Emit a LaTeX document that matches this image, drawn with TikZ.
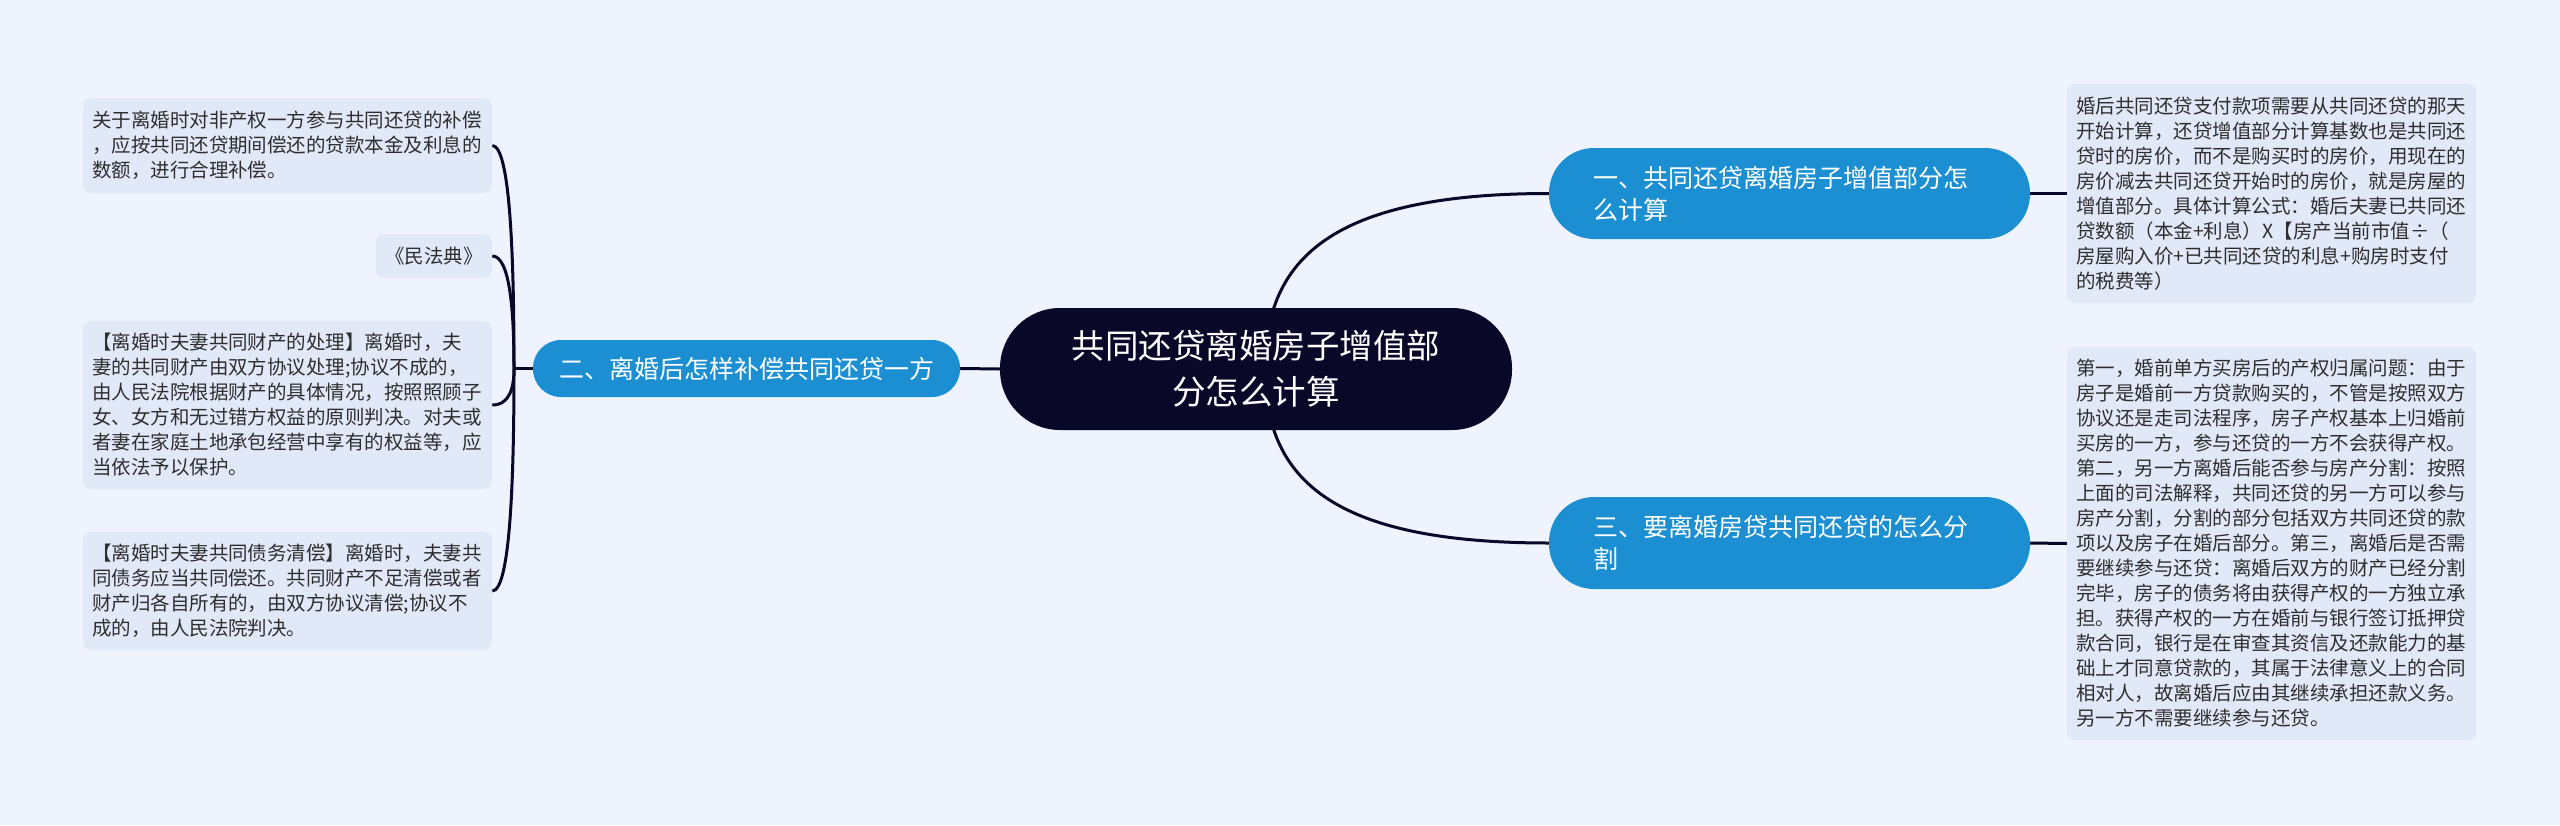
\documentclass[tikz,border=0pt]{standalone}
\usepackage{fontspec}
\setmainfont{Noto Sans CJK SC}
\usetikzlibrary{calc}
\definecolor{bgc}{HTML}{EEF3FD}
\definecolor{leaffill}{HTML}{E1E9F9}
\definecolor{branchc}{HTML}{1B8FD2}
\definecolor{rootc}{HTML}{0A0828}
\definecolor{linec}{HTML}{0A0828}
\definecolor{leaftext}{HTML}{2E2E2E}
\pgfdeclarelayer{bg}
\pgfdeclarelayer{lines}
\pgfsetlayers{bg,lines,main}
\tikzset{
 leaf/.style={fill=leaffill, rounded corners=8pt, text=leaftext, font=\fontsize{19.5}{25}\selectfont, align=left, text width=391pt, inner xsep=9pt, inner ysep=0pt},
 shortleaf/.style={fill=leaffill, rounded corners=8pt, text=leaftext, font=\fontsize{19.5}{25}\selectfont, inner sep=0pt},
 branch/.style={fill=branchc, text=white, font=\fontsize{25}{32}\selectfont, inner ysep=0pt},
 branchwide/.style={branch, text width=393pt, inner xsep=44pt, align=left, rounded corners=45pt},
 root/.style={fill=rootc, text=white, font=\fontsize{33.5}{46}\selectfont, align=center, rounded corners=60pt, minimum width=512pt, minimum height=122pt, inner sep=0pt},
 conn/.style={draw=linec, line width=3pt},
}
\begin{document}
\begin{tikzpicture}[x=1pt,y=-1pt]
\begin{pgfonlayer}{bg}
\fill[bgc] (0,0) rectangle (2560,825);
\end{pgfonlayer}
\useasboundingbox (0,0) rectangle (2560,825);

\node[root] (C) at (1256,369) {共同还贷离婚房子增值部\\分怎么计算};

\node[branchwide, minimum height=91pt] (B1) at (1789.5,193.5) {一、共同还贷离婚房子增值部分怎\\么计算};
\node[branchwide, minimum height=92pt] (B3) at (1789.5,543) {三、要离婚房贷共同还贷的怎么分\\割};
\node[branch, minimum width=427pt, minimum height=57pt, rounded corners=28pt] (B2) at (746.5,368.5) {二、离婚后怎样补偿共同还贷一方};

\node[leaf, minimum height=95pt] (L1) at (287.5,145.5) {关于离婚时对非产权一方参与共同还贷的补偿\\，应按共同还贷期间偿还的贷款本金及利息的\\数额，进行合理补偿。};
\node[shortleaf, minimum width=116pt, minimum height=44pt] (L2) at (434,256) {《民法典》};
\node[leaf, minimum height=168pt] (L3) at (287.5,405) {【离婚时夫妻共同财产的处理】离婚时，夫\\妻的共同财产由双方协议处理;协议不成的，\\由人民法院根据财产的具体情况，按照照顾子\\女、女方和无过错方权益的原则判决。对夫或\\者妻在家庭土地承包经营中享有的权益等，应\\当依法予以保护。};
\node[leaf, minimum height=118pt] (L4) at (287.5,591) {【离婚时夫妻共同债务清偿】离婚时，夫妻共\\同债务应当共同偿还。共同财产不足清偿或者\\财产归各自所有的，由双方协议清偿;协议不\\成的，由人民法院判决。};

\node[leaf, minimum height=219pt] (R1) at (2271.5,193.5) {婚后共同还贷支付款项需要从共同还贷的那天\\开始计算，还贷增值部分计算基数也是共同还\\贷时的房价，而不是购买时的房价，用现在的\\房价减去共同还贷开始时的房价，就是房屋的\\增值部分。具体计算公式：婚后夫妻已共同还\\贷数额（本金+利息）X【房产当前市值÷（\\房屋购入价+已共同还贷的利息+购房时支付\\的税费等）};
\node[leaf, minimum height=393pt] (R2) at (2271.5,543.5) {第一，婚前单方买房后的产权归属问题：由于\\房子是婚前一方贷款购买的，不管是按照双方\\协议还是走司法程序，房子产权基本上归婚前\\买房的一方，参与还贷的一方不会获得产权。\\第二，另一方离婚后能否参与房产分割：按照\\上面的司法解释，共同还贷的另一方可以参与\\房产分割，分割的部分包括双方共同还贷的款\\项以及房子在婚后部分。第三，离婚后是否需\\要继续参与还贷：离婚后双方的财产已经分割\\完毕，房子的债务将由获得产权的一方独立承\\担。获得产权的一方在婚前与银行签订抵押贷\\款合同，银行是在审查其资信及还款能力的基\\础上才同意贷款的，其属于法律意义上的合同\\相对人，故离婚后应由其继续承担还款义务。\\另一方不需要继续参与还贷。};

\begin{pgfonlayer}{lines}
\coordinate (J) at (514,368.5);
\coordinate (C0) at (1265,369);
\draw[conn] (C0) .. controls +(0,-109) and +(-219,0) .. (B1.west);
\draw[conn] (C0) .. controls +(0,109) and +(-219,0) .. (B3.west);
\draw[conn] (C.west) -- (B2.east);
\draw[conn] (B1.east) -- (R1.west);
\draw[conn] (B3.east) -- (R2.west);
\draw[conn] (B2.west) -- (J);
\draw[conn] (L1.east) .. controls ($(L1.east)+(18,0)$) and ($(J)!0.5!(J |- L1.east)$) .. (J);
\draw[conn] (L2.east) .. controls ($(L2.east)+(18,0)$) and ($(J)!0.5!(J |- L2.east)$) .. (J);
\draw[conn] (L3.east) .. controls ($(L3.east)+(18,0)$) and ($(J)!0.5!(J |- L3.east)$) .. (J);
\draw[conn] (L4.east) .. controls ($(L4.east)+(18,0)$) and ($(J)!0.5!(J |- L4.east)$) .. (J);
\end{pgfonlayer}
\end{tikzpicture}
\end{document}
